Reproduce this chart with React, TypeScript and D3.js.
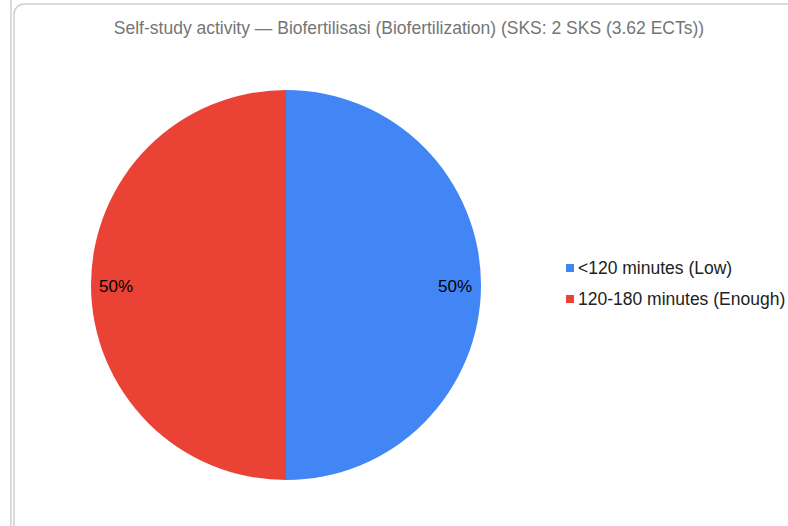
import React from "react";
import * as d3 from "d3";

const categories = ["<120 minutes (Low)", "120-180 minutes (Enough)"];
const values = [50, 50];
const colors = ["#4285F4", "#EA4335"];
const title = "Self-study activity — Biofertilisasi (Biofertilization) (SKS: 2 SKS (3.62 ECTs))";

export default function App() {
  const W = 788, H = 526;
  const cx = 286, cy = 285, r = 195;
  const pie = d3.pie<number>().sort(null).startAngle(0).endAngle(2 * Math.PI)(values);
  const arc = d3.arc<d3.PieArcDatum<number>>().innerRadius(0).outerRadius(r);
  const total = d3.sum(values);
  const font = "Arial, 'Liberation Sans', sans-serif";
  return (
    <div style={{ position: "fixed", left: 0, top: 0, width: W, height: H, background: "#fff" }}>
      <svg width={W} height={H} style={{ display: "block" }}>
        <rect x={-20} y={-20} width={31} height={H + 40} rx={10} fill="#fff" stroke="#cfcfcf" strokeWidth={1.5} />
        <rect x={14} y={4} width={W + 20} height={H + 20} rx={10} fill="#fff" stroke="#cfcfcf" strokeWidth={1.5} />
        <text x={409} y={34} textAnchor="middle" fontFamily={font} fontSize={17.5} fill="#757575">{title}</text>
        <g transform={`translate(${cx},${cy})`}>
          {pie.map((d, i) => (
            <path key={i} d={arc(d) || ""} fill={colors[i]} />
          ))}
          {pie.map((d, i) => {
            const mid = (d.startAngle + d.endAngle) / 2;
            const right = Math.sin(mid) > 0;
            const x = right ? r - 9 : -r + 8;
            return (
              <text key={i} x={x} y={1} dy="0.35em" textAnchor={right ? "end" : "start"} fontFamily={font} fontSize={17} fill="#000">
                {`${Math.round((d.data / total) * 100)}%`}
              </text>
            );
          })}
        </g>
        {categories.map((c, i) => (
          <g key={c} transform={`translate(566,${264 + i * 31})`}>
            <rect x={0} y={0} width={8} height={8} fill={colors[i]} />
            <text x={12} y={4} dy="0.35em" fontFamily={font} fontSize={17.5} fill="#222">{c}</text>
          </g>
        ))}
      </svg>
    </div>
  );
}
